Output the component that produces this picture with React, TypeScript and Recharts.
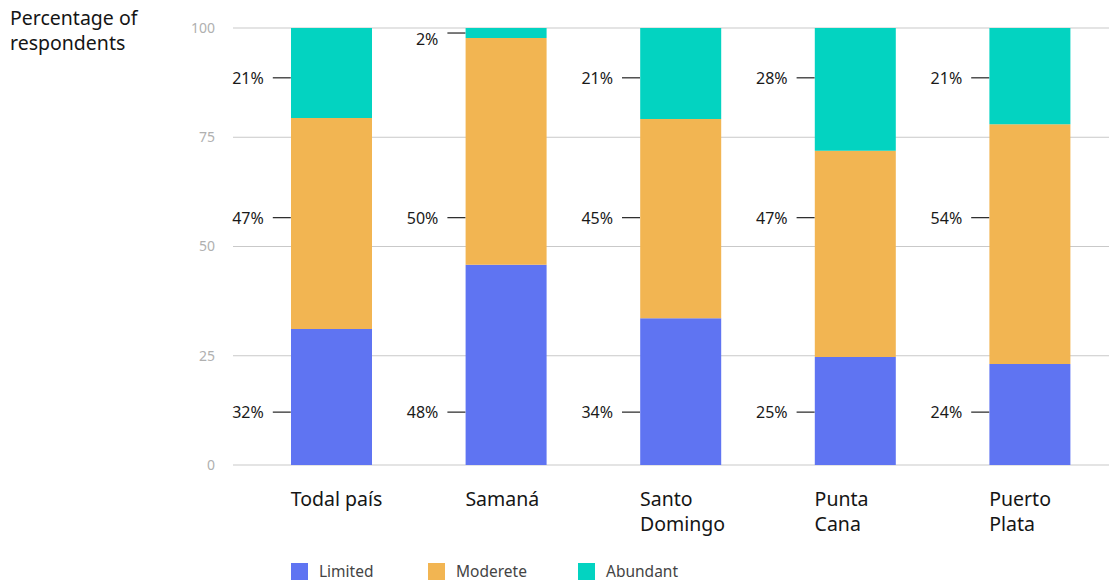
import { BarChart, Bar, XAxis, YAxis, CartesianGrid, Legend, ReferenceDot } from 'recharts'

const categories = ['Todal país', 'Samaná', 'Santo Domingo', 'Punta Cana', 'Puerto Plata']
const tickLines = [['Todal país'], ['Samaná'], ['Santo', 'Domingo'], ['Punta', 'Cana'], ['Puerto', 'Plata']]

const limited = [31.1, 45.8, 33.6, 24.7, 23.1]
const moderete = [48.3, 51.9, 45.6, 47.2, 54.9]
const abundant = [20.6, 2.3, 20.8, 28.1, 22.0]

const limitedLabels = ['32%', '48%', '34%', '25%', '24%']
const modereteLabels = ['47%', '50%', '45%', '47%', '54%']
const abundantLabels = ['21%', '2%', '21%', '28%', '21%']

const yTicks = [0, 25, 50, 75, 100]

const COLORS = { limited: '#5f74f2', moderete: '#f2b552', abundant: '#03d3c1' }
const FONT = '"Noto Sans", sans-serif'
const BAR_SIZE = 81

const data = categories.map((name, i) => ({
  name,
  limited: limited[i],
  moderete: moderete[i],
  abundant: abundant[i],
}))

// where the percentage callouts sit on the y scale
const anchorLimited = 12.1
const anchorModerete = 56.6
const anchorAbundant = 88.6

const calloutY = (i: number, series: 'limited' | 'moderete' | 'abundant') => {
  if (series === 'limited') return anchorLimited
  if (series === 'moderete') return anchorModerete
  const base = limited[i] + moderete[i]
  // tiny segments get the callout at their middle
  return abundant[i] < 5 ? base + abundant[i] / 2 : anchorAbundant
}

const Callout = (props: any) => {
  const { viewBox, text, nudge } = props
  if (!viewBox) return null
  const cx = viewBox.x + viewBox.width / 2
  const cy = viewBox.y + viewBox.height / 2
  const left = cx - BAR_SIZE / 2
  return (
    <g>
      <line x1={left - 18} x2={left} y1={cy} y2={cy} stroke="#222" strokeWidth={1.2} />
      <text
        x={left - 27}
        y={cy + (nudge ? 6 : 0)}
        textAnchor="end"
        dominantBaseline="central"
        fontSize={16}
        fill="#1a1a1a"
        fontFamily={FONT}
      >
        {text}
      </text>
    </g>
  )
}

const CategoryTick = (props: any) => {
  const { x, y, payload } = props
  const lines = tickLines[payload.index] ?? [payload.value]
  return (
    <text x={x - BAR_SIZE / 2} y={y} fontSize={19.5} fill="#151515" fontFamily={FONT} textAnchor="start">
      {lines.map((l, k) => (
        <tspan key={k} x={x - BAR_SIZE / 2} dy={k === 0 ? 41 : 25}>
          {l}
        </tspan>
      ))}
    </text>
  )
}

const legendItems = [
  { label: 'Limited', color: COLORS.limited, left: 291 },
  { label: 'Moderete', color: COLORS.moderete, left: 428 },
  { label: 'Abundant', color: COLORS.abundant, left: 578 },
]

const LegendContent = () => (
  <div style={{ position: 'relative', height: 26, margin: 0 }}>
    {legendItems.map((it) => (
      <div key={it.label} style={{ position: 'absolute', left: it.left, top: 7, display: 'flex', alignItems: 'center' }}>
        <span style={{ width: 17, height: 17, background: it.color, display: 'inline-block' }} />
        <span style={{ marginLeft: 11, fontSize: 15.5, color: '#444', fontFamily: FONT, lineHeight: '17px' }}>
          {it.label}
        </span>
      </div>
    ))}
  </div>
)

export default function App() {
  return (
    <div
      style={{
        position: 'absolute',
        left: 0,
        top: 0,
        width: 1109,
        height: 582,
        overflow: 'hidden',
        background: '#fff',
        fontFamily: FONT,
      }}
    >
      <div
        style={{
          position: 'absolute',
          left: 10,
          top: 5,
          fontSize: 19.5,
          lineHeight: '25px',
          color: '#151515',
          zIndex: 2,
        }}
      >
        Percentage of
        <br />
        respondents
      </div>
      <BarChart width={1117} height={582} data={data} margin={{ top: 28, right: 0, bottom: 0, left: 0 }} barSize={BAR_SIZE}>
        <CartesianGrid vertical={false} stroke="#c9c9c9" />
        <XAxis dataKey="name" axisLine={false} tickLine={false} tickSize={0} tickMargin={0} height={91} tick={<CategoryTick />} interval={0} />
        <YAxis
          width={244}
          domain={[0, 100]}
          allowDataOverflow
          ticks={yTicks}
          axisLine={false}
          tickLine={{ stroke: '#c9c9c9' }}
          tickSize={11}
          tickMargin={18}
          tick={{ fill: '#b0b0b0', fontSize: 14, fontFamily: FONT }}
        />
        <Bar dataKey="limited" stackId="a" fill={COLORS.limited} isAnimationActive={false} />
        <Bar dataKey="moderete" stackId="a" fill={COLORS.moderete} isAnimationActive={false} />
        <Bar dataKey="abundant" stackId="a" fill={COLORS.abundant} isAnimationActive={false} />
        {categories.map((c, i) => (
          <ReferenceDot key={'l' + i} x={c} y={calloutY(i, 'limited')} r={0} fill="none" stroke="none" label={<Callout text={limitedLabels[i]} />} />
        ))}
        {categories.map((c, i) => (
          <ReferenceDot key={'m' + i} x={c} y={calloutY(i, 'moderete')} r={0} fill="none" stroke="none" label={<Callout text={modereteLabels[i]} />} />
        ))}
        {categories.map((c, i) => (
          <ReferenceDot
            key={'a' + i}
            x={c}
            y={calloutY(i, 'abundant')}
            r={0}
            fill="none"
            stroke="none"
            label={<Callout text={abundantLabels[i]} nudge={abundant[i] < 5} />}
          />
        ))}
        <Legend verticalAlign="bottom" height={26} content={<LegendContent />} />
      </BarChart>
    </div>
  )
}
